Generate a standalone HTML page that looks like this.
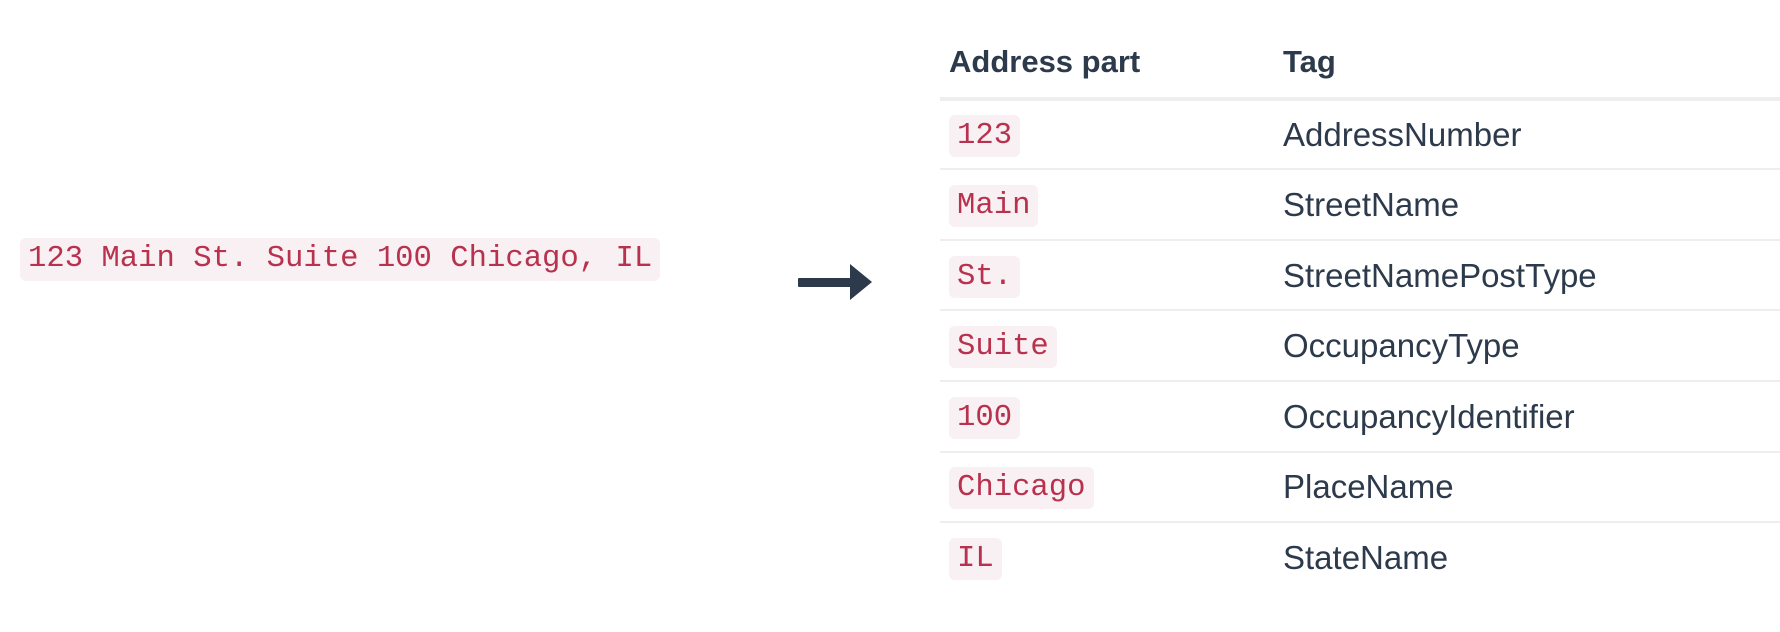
<!DOCTYPE html>
<html><head><meta charset="utf-8"><style>
body{margin:0;width:1780px;height:632px;background:#fff;position:relative;overflow:hidden;font-family:"Liberation Sans",sans-serif;color:#2c3a4b}
.code{position:absolute;font-family:"Liberation Mono",monospace;color:#b8324f;background:#f8f0f2;border-radius:6px;font-size:30.6px;line-height:42px;padding:0 8px}
.t{position:absolute;font-size:33px;line-height:42px;left:1283px}
.h{position:absolute;font-weight:bold;font-size:31px;top:44px}
.line{position:absolute;left:940px;width:840px;height:2px;background:#eceeef}
</style></head><body>
<div class="code" style="left:20px;top:238px;height:43px;line-height:43px;">123 Main St. Suite 100 Chicago, IL</div>
<svg style="position:absolute;left:796px;top:262px" width="80" height="40"><rect x="2" y="16" width="54" height="9" fill="#2c3a4b" rx="1"/><polygon points="54,2 76,20 54,38" fill="#2c3a4b"/></svg>
<div class="h" style="left:949px">Address part</div>
<div class="h" style="left:1283px">Tag</div>
<div class="line" style="top:97px;height:4px"></div>
<div class="line" style="top:168px"></div>
<div class="line" style="top:239px"></div>
<div class="line" style="top:309px"></div>
<div class="line" style="top:380px"></div>
<div class="line" style="top:451px"></div>
<div class="line" style="top:521px"></div>
<div class="code" style="left:949px;top:115px">123</div><div class="t" style="top:114px">AddressNumber</div>
<div class="code" style="left:949px;top:185px">Main</div><div class="t" style="top:184px">StreetName</div>
<div class="code" style="left:949px;top:256px">St.</div><div class="t" style="top:255px">StreetNamePostType</div>
<div class="code" style="left:949px;top:326px">Suite</div><div class="t" style="top:325px">OccupancyType</div>
<div class="code" style="left:949px;top:397px">100</div><div class="t" style="top:396px">OccupancyIdentifier</div>
<div class="code" style="left:949px;top:467px">Chicago</div><div class="t" style="top:466px">PlaceName</div>
<div class="code" style="left:949px;top:538px">IL</div><div class="t" style="top:537px">StateName</div>
</body></html>
